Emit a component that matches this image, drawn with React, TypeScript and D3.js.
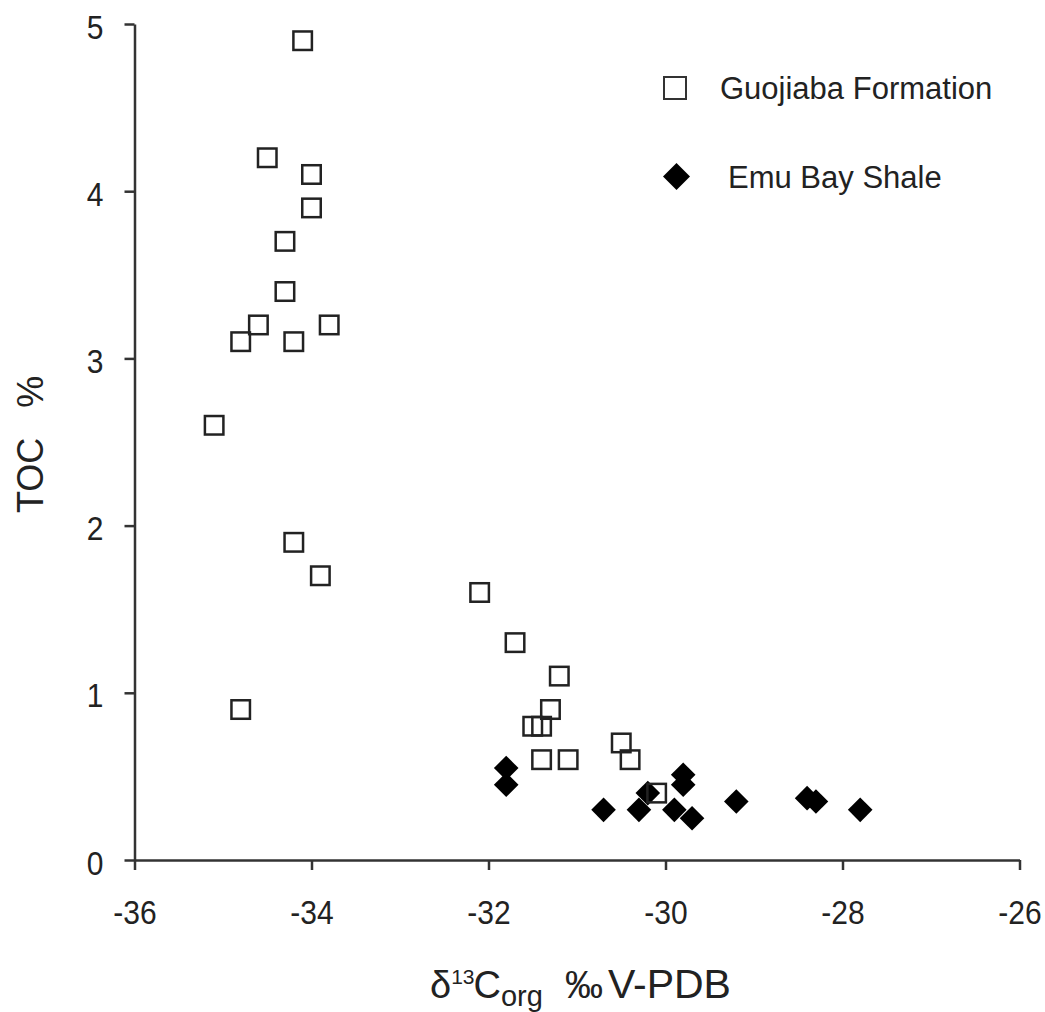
import React, { useEffect, useRef } from "react";
import * as d3 from "d3";

const guojiabaX = [-34.1, -34.5, -34.0, -34.0, -34.3, -34.3, -34.6, -34.8, -34.2, -33.8, -35.1, -34.2, -33.9, -34.8, -32.1, -31.7, -31.2, -31.3, -31.5, -31.4, -31.4, -31.1, -30.5, -30.4, -30.1];
const guojiabaY = [4.9, 4.2, 4.1, 3.9, 3.7, 3.4, 3.2, 3.1, 3.1, 3.2, 2.6, 1.9, 1.7, 0.9, 1.6, 1.3, 1.1, 0.9, 0.8, 0.8, 0.6, 0.6, 0.7, 0.6, 0.4];
const emuX = [-31.8, -31.8, -30.7, -30.3, -30.2, -29.8, -29.8, -29.9, -29.7, -29.2, -28.4, -28.3, -27.8];
const emuY = [0.55, 0.45, 0.3, 0.3, 0.4, 0.51, 0.45, 0.3, 0.25, 0.35, 0.37, 0.35, 0.3];
const xTicks = [-36, -34, -32, -30, -28, -26];
const yTicks = [0, 1, 2, 3, 4, 5];
const seriesNames = ["Guojiaba Formation", "Emu Bay Shale"];

const W = 1045;
const H = 1012;
const FONT = "'Liberation Sans', Arial, sans-serif";
const INK = "#222";
const SY = 1.1;

export default function App() {
  const ref = useRef<SVGSVGElement>(null);

  useEffect(() => {
    const svg = d3.select(ref.current);
    svg.selectAll("*").remove();

    const x = d3.scaleLinear().domain([-36, -26]).range([134.5, 1019.5]);
    const y = d3.scaleLinear().domain([0, 5]).range([860, 24]);

    const xAxis = svg
      .append("g")
      .attr("transform", `translate(0,${y(0)})`)
      .call(d3.axisBottom(x).tickValues(xTicks).tickSize(10).tickSizeOuter(0).tickFormat((d) => String(d)));
    const yAxis = svg
      .append("g")
      .attr("transform", `translate(${x(-36)},0)`)
      .call(d3.axisLeft(y).tickValues(yTicks).tickSize(10).tickSizeOuter(0).tickFormat((d) => String(d)));

    [xAxis, yAxis].forEach((g) => {
      g.selectAll("path.domain").attr("stroke", "#333").attr("stroke-width", 2.5);
      g.selectAll(".tick line").attr("stroke", "#333").attr("stroke-width", 2.5);
      g.selectAll(".tick text")
        .attr("fill", INK)
        .attr("font-family", FONT)
        .attr("font-size", 30)
        .attr("dy", null)
        .attr("transform", `scale(1,${SY})`);
    });
    xAxis.selectAll(".tick text").attr("y", 64 / SY);
    yAxis.selectAll(".tick text").attr("x", -31).attr("y", 14 / SY);

    // Emu Bay diamonds
    const dia = 12.3;
    const diamondPath = (cx: number, cy: number, r: number) =>
      `M${cx},${cy - r}L${cx + r},${cy}L${cx},${cy + r}L${cx - r},${cy}Z`;
    svg
      .append("g")
      .selectAll("path")
      .data(emuX.map((v, i) => [v, emuY[i]]))
      .join("path")
      .attr("d", (d) => diamondPath(x(d[0]), y(d[1]), dia))
      .attr("fill", "#000");

    // Guojiaba squares
    const s = 18.5;
    svg
      .append("g")
      .selectAll("rect")
      .data(guojiabaX.map((v, i) => [v, guojiabaY[i]]))
      .join("rect")
      .attr("x", (d) => x(d[0]) - s / 2)
      .attr("y", (d) => y(d[1]) - s / 2)
      .attr("width", s)
      .attr("height", s)
      .attr("fill", "none")
      .attr("stroke", "#222")
      .attr("stroke-width", 2.5);

    // Legend
    const lg = svg.append("g");
    lg.append("rect")
      .attr("x", 664)
      .attr("y", 77)
      .attr("width", 22)
      .attr("height", 22)
      .attr("fill", "none")
      .attr("stroke", "#333")
      .attr("stroke-width", 2);
    lg.append("text")
      .attr("x", 720)
      .attr("y", 99)
      .attr("font-family", FONT)
      .attr("font-size", 31)
      .attr("fill", INK)
      .text(seriesNames[0]);
    lg.append("path").attr("d", diamondPath(676.5, 176.5, 13.5)).attr("fill", "#000");
    lg.append("text")
      .attr("x", 728)
      .attr("y", 188)
      .attr("font-family", FONT)
      .attr("font-size", 31)
      .attr("fill", INK)
      .text(seriesNames[1]);

    // Y title
    svg
      .append("text")
      .attr("transform", `translate(43,513) rotate(-90)`)
      .attr("font-family", FONT)
      .attr("font-size", 36)
      .attr("fill", INK)
      .attr("xml:space", "preserve")
      .style("white-space", "pre")
      .text("TOC   %");

    // X title
    const base = 998;
    const xt = svg
      .append("text")
      .attr("x", 430)
      .attr("y", base)
      .attr("font-family", FONT)
      .attr("font-size", 38)
      .attr("fill", INK);
    xt.append("tspan").text("δ");
    xt.append("tspan").attr("dy", -14).attr("font-size", 21).text("13");
    xt.append("tspan").attr("dy", 14).attr("dx", -1).text("C");
    xt.append("tspan").attr("dy", 8).attr("font-size", 29).text("org");
    xt.append("tspan").attr("dy", -8).attr("dx", 22).text("‰");
    xt.append("tspan").attr("dx", 5).attr("font-size", 41).text("V-PDB");
  }, []);

  return (
    <svg
      ref={ref}
      width={W}
      height={H}
      style={{ position: "absolute", left: 0, top: 0, background: "#fff" }}
    />
  );
}
